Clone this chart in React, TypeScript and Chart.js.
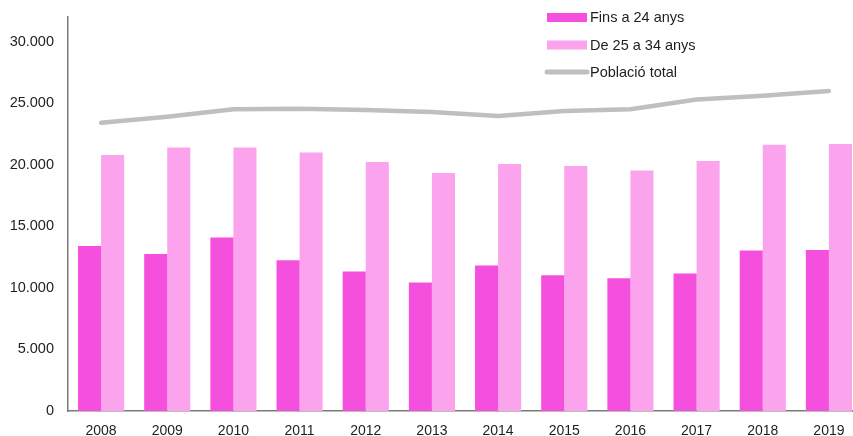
import React, { useEffect, useRef } from "react";
import { Chart, registerables } from "chart.js";

Chart.register(...registerables);

const years = ["2008", "2009", "2010", "2011", "2012", "2013", "2014", "2015", "2016", "2017", "2018", "2019"];
const fins24 = [13400, 12750, 14100, 12250, 11330, 10440, 11820, 11030, 10790, 11170, 13040, 13070];
const de25a34 = [20800, 21400, 21400, 21000, 20220, 19330, 20060, 19890, 19540, 20300, 21630, 21680];
const poblacioTotal = [23410, 23900, 24500, 24550, 24450, 24280, 23960, 24370, 24500, 25300, 25600, 25990];
const yTicks = [0, 5000, 10000, 15000, 20000, 25000, 30000];

const DARK = "#F550DD";
const LIGHT = "#FBA3EC";
const GREY = "#BFBFBF";
const TEXT = "#1e1e1e";
const FONT = "'Liberation Sans', Arial, sans-serif";

const fmt = (v: number) => String(v).replace(/\B(?=(\d{3})+(?!\d))/g, ".");

const legendPlugin = {
  id: "customLegend",
  afterDraw(chart: any) {
    const ctx = chart.ctx;
    const ds = chart.data.datasets;
    const x0 = 547;
    const x1 = 587;
    const rows = [17.5, 45, 72];
    ctx.save();
    ctx.font = `14.5px ${FONT}`;
    ctx.textBaseline = "middle";
    ctx.fillStyle = TEXT;
    ds.forEach((d: any, i: number) => {
      const y = rows[i];
      if (d.type === "line") {
        ctx.strokeStyle = d.borderColor;
        ctx.lineWidth = 5;
        ctx.lineCap = "round";
        ctx.beginPath();
        ctx.moveTo(x0, y);
        ctx.lineTo(x1, y);
        ctx.stroke();
      } else {
        ctx.fillStyle = d.backgroundColor;
        ctx.fillRect(x0, y - 4.5, x1 - x0, 9);
      }
      ctx.fillStyle = TEXT;
      ctx.fillText(d.label, 590, y + 0.5);
    });
    ctx.restore();
  },
};

export default function App() {
  const ref = useRef<HTMLCanvasElement | null>(null);
  useEffect(() => {
    if (!ref.current) return;
    const chart = new Chart(ref.current, {
      type: "bar",
      data: {
        labels: years,
        datasets: [
          {
            type: "bar",
            label: "Fins a 24 anys",
            data: fins24,
            backgroundColor: DARK,
            barPercentage: 1,
            categoryPercentage: 0.697,
            order: 2,
          },
          {
            type: "bar",
            label: "De 25 a 34 anys",
            data: de25a34,
            backgroundColor: LIGHT,
            barPercentage: 1,
            categoryPercentage: 0.697,
            order: 2,
          },
          {
            type: "line",
            label: "Població total",
            data: poblacioTotal,
            borderColor: GREY,
            backgroundColor: GREY,
            borderWidth: 4.5,
            pointRadius: 0,
            borderCapStyle: "round",
            borderJoinStyle: "round",
            tension: 0,
            order: 1,
          } as any,
        ],
      },
      options: {
        responsive: false,
        animation: false,
        devicePixelRatio: 1,
        layout: { padding: { top: 17, left: 0, right: 0, bottom: 0 } },
        plugins: {
          legend: { display: false },
          tooltip: { enabled: false },
        },
        scales: {
          x: {
            offset: true,
            grid: { display: false, drawTicks: false },
            border: { display: true, color: "#7a7a7a", width: 1.5 },
            ticks: {
              color: TEXT,
              font: { family: FONT, size: 14 },
              padding: 12,
              maxRotation: 0,
              autoSkip: false,
            },
            afterFit: (s: any) => {
              s.height = 25;
              s.paddingLeft = 0;
              s.paddingRight = 0;
            },
          },
          y: {
            min: 0,
            max: 32000,
            grid: { display: false, drawTicks: false },
            border: { display: true, color: "#7a7a7a", width: 1.5 },
            ticks: {
              color: TEXT,
              font: { family: FONT, size: 14.5 },
              padding: 14,
              stepSize: 5000,
              callback: (v: any) => fmt(Number(v)),
            },
            afterBuildTicks: (s: any) => {
              s.ticks = yTicks.map((v) => ({ value: v }));
            },
            afterFit: (s: any) => {
              s.width = 68;
              s.paddingTop = 0;
              s.paddingBottom = 0;
            },
          },
        },
      },
      plugins: [legendPlugin],
    });
    return () => chart.destroy();
  }, []);

  return (
    <div
      style={{
        position: "fixed",
        left: 0,
        top: 0,
        width: 853,
        height: 436,
        overflow: "hidden",
        background: "#fff",
      }}
    >
      <canvas ref={ref} width={862} height={436} style={{ display: "block", width: 862, height: 436 }} />
    </div>
  );
}
